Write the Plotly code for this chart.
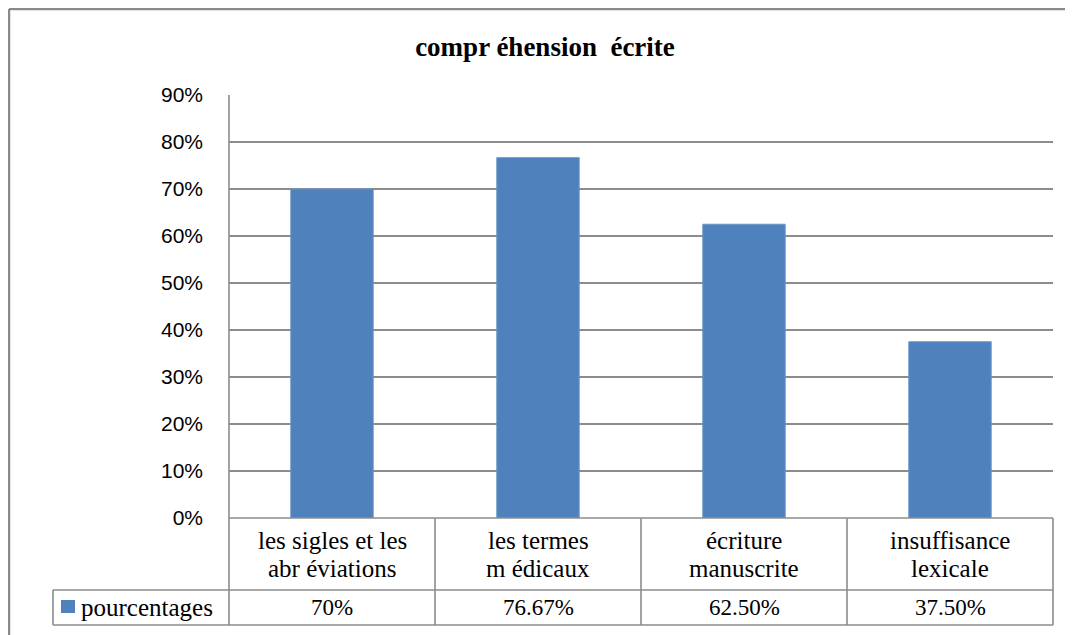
import plotly.graph_objects as go

# ---- data ----
categories = ["les sigles et les<br>abr éviations", "les termes<br>m édicaux",
              "écriture<br>manuscrite", "insuffisance<br>lexicale"]
values = [0.70, 0.7667, 0.625, 0.375]
value_labels = ["70%", "76.67%", "62.50%", "37.50%"]
series_name = "pourcentages"
title_text = "compr éhension  écrite"
y_ticks = [0, 0.1, 0.2, 0.3, 0.4, 0.5, 0.6, 0.7, 0.8, 0.9]

OFF = 8  # page body margin
W, H = 1073, 635 - OFF
L, R, T, B = 229, 1053, 95, 518  # plot area box in page pixels
BAR = "#4F81BD"
GRID = "#8c8c8c"
SERIF = "Liberation Serif"


def px(x):
    return (x - L) / (R - L)


def py(y):
    return (B - y) / (B - T)


fig = go.Figure()
fig.add_trace(go.Bar(x=categories, y=values, marker=dict(color=BAR, line=dict(color="#6a95c9", width=1)),
                     name=series_name, showlegend=False))

shapes = []
line = dict(color=GRID, width=1.6)
n = len(categories)
# table horizontal lines
shapes.append(dict(type="line", xref="paper", yref="paper", x0=0, x1=1, y0=0, y1=0, line=line))
shapes.append(dict(type="line", xref="paper", yref="paper", x0=px(53), x1=1, y0=py(590), y1=py(590), line=line))
shapes.append(dict(type="line", xref="paper", yref="paper", x0=px(53), x1=1, y0=py(625), y1=py(625), line=line))
# table vertical lines
for i in range(n + 1):
    shapes.append(dict(type="line", xref="paper", yref="paper", x0=i / n, x1=i / n, y0=0, y1=py(625), line=line))
shapes.append(dict(type="line", xref="paper", yref="paper", x0=px(53), x1=px(53), y0=py(590), y1=py(625), line=line))
# y axis line
shapes.append(dict(type="line", xref="paper", yref="paper", x0=0, x1=0, y0=0, y1=1, line=line))
# legend key square
shapes.append(dict(type="rect", xref="paper", yref="paper", x0=px(61), x1=px(75), y0=py(613), y1=py(600),
                   fillcolor=BAR, line=dict(width=0)))
# outer chart border (top and left)
border = dict(color="#8a8a8a", width=2.5)
shapes.append(dict(type="line", xref="paper", yref="paper", x0=px(9), x1=px(1090), y0=py(9), y1=py(9), line=border))
shapes.append(dict(type="line", xref="paper", yref="paper", x0=px(9), x1=px(9), y0=py(9), y1=py(640), line=border))

annotations = []
for i, (c, v) in enumerate(zip(categories, value_labels)):
    parts = c.split("<br>")
    for j, part in enumerate(parts):
        annotations.append(dict(x=i, xref="x", yref="paper", y=py(540 + 28 * j), text=part, showarrow=False,
                                font=dict(family=SERIF, size=25, color="#000"), yanchor="middle",
                                xanchor="center"))
    annotations.append(dict(x=i, xref="x", yref="paper", y=py(607), text=v, showarrow=False,
                            font=dict(family=SERIF, size=23, color="#000"), yanchor="middle", xanchor="center"))
annotations.append(dict(x=px(79), xref="paper", yref="paper", y=py(607), text=series_name, showarrow=False,
                        font=dict(family=SERIF, size=25, color="#000"), yanchor="middle", xanchor="left"))

fig.update_layout(
    width=W, height=H,
    margin=dict(l=L - OFF, r=W - (R - OFF), t=T - OFF, b=H - (B - OFF), autoexpand=False),
    paper_bgcolor="white", plot_bgcolor="white",
    title=dict(text="<b>" + title_text + "</b>", xref="container", yref="container",
               x=(545 - OFF) / W, y=1 - (47 - OFF) / H, xanchor="center", yanchor="middle",
               font=dict(family=SERIF, size=27, color="#000")),
    bargap=0.6,
    shapes=shapes,
    annotations=annotations,
    xaxis=dict(range=[-0.5, n - 0.5], showticklabels=False, showgrid=False, zeroline=False,
               showline=False, ticks=""),
    yaxis=dict(range=[0, 0.9], tickvals=y_ticks, tickformat=".0%", showgrid=True, gridcolor=GRID,
               gridwidth=1.6, zeroline=False, showline=False, ticks="",
               ticklabelstandoff=25, tickfont=dict(family="Liberation Sans", size=21, color="#000")),
)

fig.write_html("out.html")
